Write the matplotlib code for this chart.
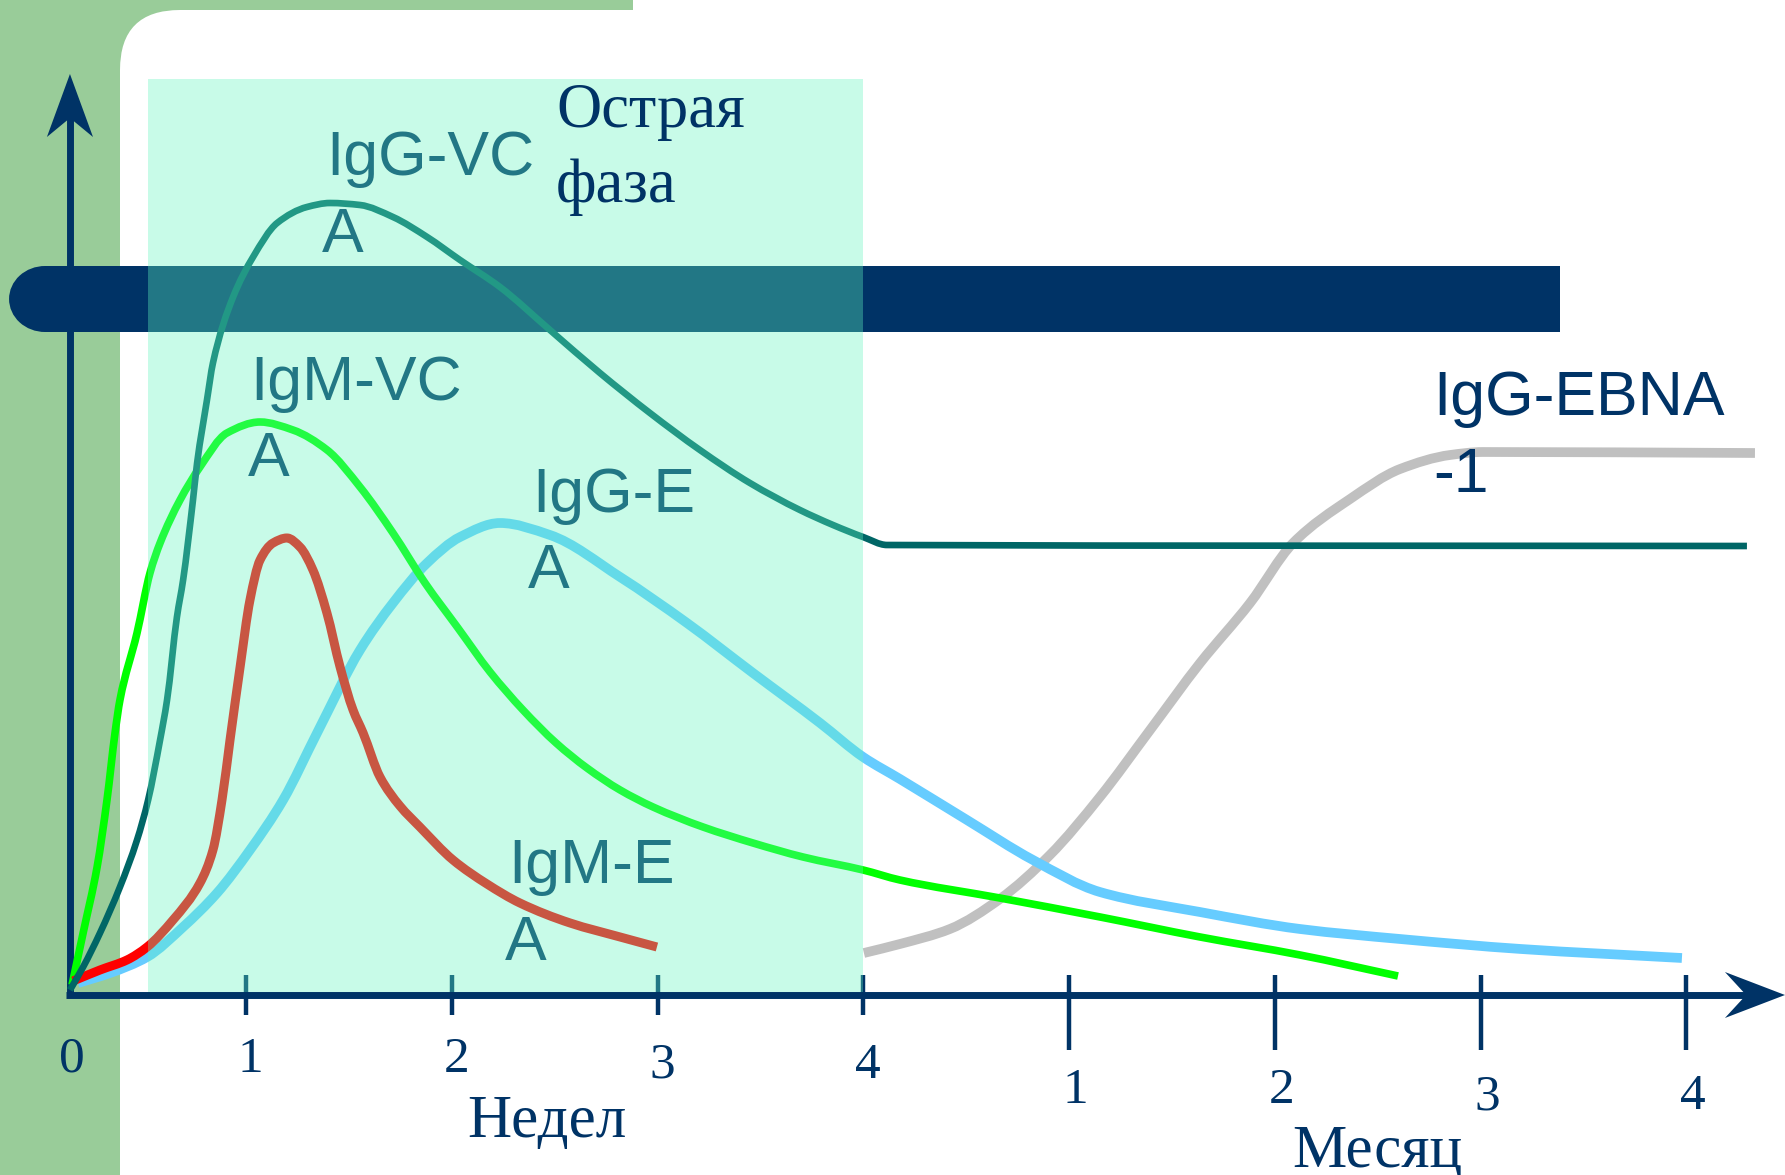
import matplotlib
matplotlib.use("Agg")
import matplotlib.pyplot as plt
from matplotlib.patches import Rectangle, Ellipse, FancyBboxPatch, Polygon, PathPatch
from matplotlib.path import Path

# ---- data -----------------------------------------------------------------
# Time axis: one unit per slot; weeks 1..4 sit at 1..4, months 1..4 at 5..8.
origin_x = 0.143
week_ticks = [1, 2, 3, 4]
week_labels = ["1", "2", "3", "4"]
month_ticks = [5, 6, 7, 8]
month_labels = ["1", "2", "3", "4"]

# Acute phase window (weeks)
acute_start, acute_end = 0.52, 4.0

# Virus persistence bar
bar_start, bar_end = 0.022, 7.385
bar_low, bar_high = 6.63, 7.29

# Antibody titres (relative level)
igg_vc_x = [0.143, 0.207, 0.289, 0.386, 0.469, 0.523, 0.581, 0.615, 0.663, 0.693,
            0.741, 0.761, 0.809, 0.838, 0.936, 1.033, 1.150, 1.295, 1.407, 1.553,
            1.713, 1.879, 2.039, 2.233, 2.476, 2.719, 2.962, 3.205, 3.448, 3.691,
            3.852, 3.998, 4.114, 8.294]
igg_vc_y = [0.05, 0.28, 0.62, 1.08, 1.55, 1.95, 2.55, 2.95, 3.78, 4.15,
            4.95, 5.32, 5.95, 6.32, 6.98, 7.38, 7.72, 7.88, 7.92, 7.90,
            7.78, 7.58, 7.35, 7.08, 6.65, 6.22, 5.82, 5.45, 5.12, 4.85,
            4.70, 4.58, 4.50, 4.49]

igm_vc_x = [0.153, 0.207, 0.275, 0.323, 0.362, 0.386, 0.469, 0.532, 0.581, 0.678,
            0.775, 0.906, 1.067, 1.227, 1.393, 1.553, 1.713, 1.869, 2.029, 2.185,
            2.345, 2.506, 2.656, 2.817, 2.977, 3.220, 3.463, 3.706, 3.998, 4.177,
            4.663, 5.150, 5.636, 6.122, 6.598]
igm_vc_y = [0.10, 0.62, 1.28, 1.95, 2.62, 2.95, 3.62, 4.22, 4.52, 4.95,
            5.28, 5.62, 5.73, 5.65, 5.45, 5.08, 4.62, 4.12, 3.67, 3.23,
            2.85, 2.52, 2.27, 2.05, 1.88, 1.68, 1.52, 1.38, 1.25, 1.15,
            0.97, 0.78, 0.58, 0.40, 0.19]

igm_e_x = [0.158, 0.289, 0.420, 0.518, 0.644, 0.775, 0.838, 0.882, 0.921, 0.970,
           1.018, 1.067, 1.130, 1.198, 1.261, 1.324, 1.392, 1.456, 1.519, 1.568,
           1.650, 1.747, 1.844, 2.005, 2.170, 2.330, 2.574, 2.817, 2.996]
igm_e_y = [0.14, 0.25, 0.35, 0.48, 0.75, 1.12, 1.45, 1.95, 2.55, 3.28,
           3.95, 4.35, 4.52, 4.57, 4.48, 4.25, 3.82, 3.28, 2.85, 2.62,
           2.18, 1.89, 1.68, 1.35, 1.11, 0.92, 0.72, 0.58, 0.48]

igg_e_x = [0.182, 0.338, 0.518, 0.693, 0.858, 1.018, 1.179, 1.344, 1.553, 1.713,
           1.879, 2.039, 2.233, 2.476, 2.817, 3.142, 3.463, 3.789, 3.998, 4.177,
           4.503, 4.824, 5.149, 5.635, 6.122, 6.608, 7.196, 7.978]
igg_e_y = [0.12, 0.22, 0.38, 0.68, 1.02, 1.45, 1.95, 2.62, 3.45, 3.92,
           4.32, 4.58, 4.72, 4.60, 4.18, 3.72, 3.22, 2.72, 2.38, 2.16,
           1.75, 1.35, 1.03, 0.83, 0.66, 0.56, 0.46, 0.37]

igg_ebna_x = [4.002, 4.177, 4.420, 4.663, 4.906, 5.149, 5.393, 5.636, 5.879, 6.088,
              6.365, 6.608, 6.851, 7.011, 8.333]
igg_ebna_y = [0.42, 0.51, 0.66, 0.96, 1.40, 1.98, 2.65, 3.32, 3.92, 4.52,
              4.96, 5.26, 5.40, 5.43, 5.42]

# ---- style ----------------------------------------------------------------
NAVY = "#003366"
GREEN_BG = "#99CC99"
MINT = "#63F6BE"
SANS = "Liberation Sans"
SERIF = "Liberation Serif"


def smooth_path(xs, ys):
    """Cubic Bezier path through every point, with shape-preserving slopes."""
    n = len(xs)
    h = [xs[k + 1] - xs[k] for k in range(n - 1)]
    d = [(ys[k + 1] - ys[k]) / h[k] for k in range(n - 1)]
    m = [0.0] * n
    m[0], m[-1] = d[0], d[-1]
    for k in range(1, n - 1):
        if d[k - 1] * d[k] <= 0:
            m[k] = 0.0
        else:
            w1 = 2 * h[k] + h[k - 1]
            w2 = h[k] + 2 * h[k - 1]
            m[k] = (w1 + w2) / (w1 / d[k - 1] + w2 / d[k])
    verts = [(xs[0], ys[0])]
    codes = [Path.MOVETO]
    for k in range(n - 1):
        t = h[k] / 3
        verts += [(xs[k] + t, ys[k] + m[k] * t),
                  (xs[k + 1] - t, ys[k + 1] - m[k + 1] * t),
                  (xs[k + 1], ys[k + 1])]
        codes += [Path.CURVE4] * 3
    return Path(verts, codes)


def draw_curve(ax, xs, ys, color, lw, z):
    ax.add_patch(PathPatch(smooth_path(xs, ys), fill=False, ec=color, lw=lw,
                           capstyle="butt", joinstyle="round", zorder=z))


fig = plt.figure(figsize=(17.85, 11.75), dpi=100)

# decorative slide frame (pixel units)
bg = fig.add_axes([0, 0, 1, 1])
bg.set_xlim(0, 1785)
bg.set_ylim(1175, 0)
bg.axis("off")
bg.add_patch(Rectangle((0, 0), 633, 90, color=GREEN_BG, lw=0))
bg.add_patch(Rectangle((0, 0), 120, 1175, color=GREEN_BG, lw=0))
bg.add_patch(FancyBboxPatch((120, 10), 1900, 1400,
                            boxstyle="round,pad=0,rounding_size=60",
                            fc="white", ec="none"))

ax = fig.add_axes([0, 0, 1, 1])
ax.patch.set_alpha(0)
ax.set_xlim(-0.197, 8.479)
ax.set_ylim(-1.80, 9.95)
ax.axis("off")

# axes with arrows
ax.plot([origin_x - 0.017, 8.30], [0, 0], color=NAVY, lw=5,
        solid_capstyle="butt", zorder=2)
ax.plot([origin_x, origin_x], [-0.02, 8.85], color=NAVY, lw=5,
        solid_capstyle="butt", zorder=2)
ax.add_patch(Polygon([(origin_x, 9.21), (origin_x + 0.112, 8.58),
                      (origin_x, 8.77), (origin_x - 0.112, 8.58)],
                     closed=True, fc=NAVY, ec="none", zorder=2))
ax.add_patch(Polygon([(8.479, 0), (8.187, 0.23), (8.29, 0), (8.187, -0.23)],
                     closed=True, fc=NAVY, ec="none", zorder=2))

for t in week_ticks:
    ax.plot([t, t], [-0.20, 0.20], color=NAVY, lw=3.2,
            solid_capstyle="butt", zorder=2)
for t in month_ticks:
    ax.plot([t, t], [-0.55, 0.20], color=NAVY, lw=3.2,
            solid_capstyle="butt", zorder=2)

# tick labels
ax.text(origin_x + 0.01, -0.77, "0", family=SERIF, fontsize=37, color=NAVY,
        ha="center", va="baseline")
week_base = [-0.77, -0.77, -0.83, -0.83]
for t, lab, b in zip(week_ticks, week_labels, week_base):
    ax.text(t + 0.02, b, lab, family=SERIF, fontsize=37, color=NAVY,
            ha="center", va="baseline")
month_base = [-1.08, -1.08, -1.14, -1.14]
for t, lab, b in zip(month_ticks, month_labels, month_base):
    ax.text(t + 0.03, b, lab, family=SERIF, fontsize=37, color=NAVY,
            ha="center", va="baseline")
ax.text(2.462, -1.42, "Недел", family=SERIF, fontsize=44, color=NAVY,
        ha="center", va="baseline")
ax.text(6.496, -1.72, "Месяц", family=SERIF, fontsize=44, color=NAVY,
        ha="center", va="baseline")

# persistence bar
ax.add_patch(Rectangle((bar_start, bar_low), bar_end - bar_start,
                       bar_high - bar_low, fc=NAVY, ec="none", zorder=3))
ax.add_patch(Ellipse((bar_start, (bar_low + bar_high) / 2), 0.35,
                     bar_high - bar_low, fc=NAVY, ec="none", zorder=3))

# antibody curves
draw_curve(ax, igg_ebna_x, igg_ebna_y, "#C0C0C0", 7, 4)
draw_curve(ax, igg_e_x, igg_e_y, "#66CCFF", 7, 4)
draw_curve(ax, igm_vc_x, igm_vc_y, "#00FF00", 5.5, 5)
draw_curve(ax, igm_e_x, igm_e_y, "#FF0000", 6.5, 5)
draw_curve(ax, igg_vc_x, igg_vc_y, "#006666", 4.8, 6)

# curve labels
lab_kw = dict(family=SANS, fontsize=45, color=NAVY, ha="left",
              va="baseline", zorder=7)
ax.text(1.388, 8.20, "IgG-VC", **lab_kw)
ax.text(1.368, 7.43, "A", **lab_kw)
ax.text(1.018, 5.95, "IgM-VC", **lab_kw)
ax.text(1.009, 5.19, "A", **lab_kw)
ax.text(2.389, 4.83, "IgG-E", **lab_kw)
ax.text(2.369, 4.07, "A", **lab_kw)
ax.text(2.272, 1.12, "IgM-E", **lab_kw)
ax.text(2.258, 0.35, "A", **lab_kw)
ax.text(6.768, 5.80, "IgG-EBNA", **lab_kw)
ax.text(6.768, 5.03, "-1", **lab_kw)

# acute phase window
ax.add_patch(Rectangle((acute_start, 0.03), acute_end - acute_start, 9.13,
                       fc=MINT, ec="none", alpha=0.353, zorder=8))
ax.text(2.506, 8.68, "Острая", family=SERIF, fontsize=45, color=NAVY,
        ha="left", va="baseline", zorder=9)
ax.text(2.506, 7.93, "фаза", family=SERIF, fontsize=45, color=NAVY,
        ha="left", va="baseline", zorder=9)

fig.savefig("out.png", dpi=100)
